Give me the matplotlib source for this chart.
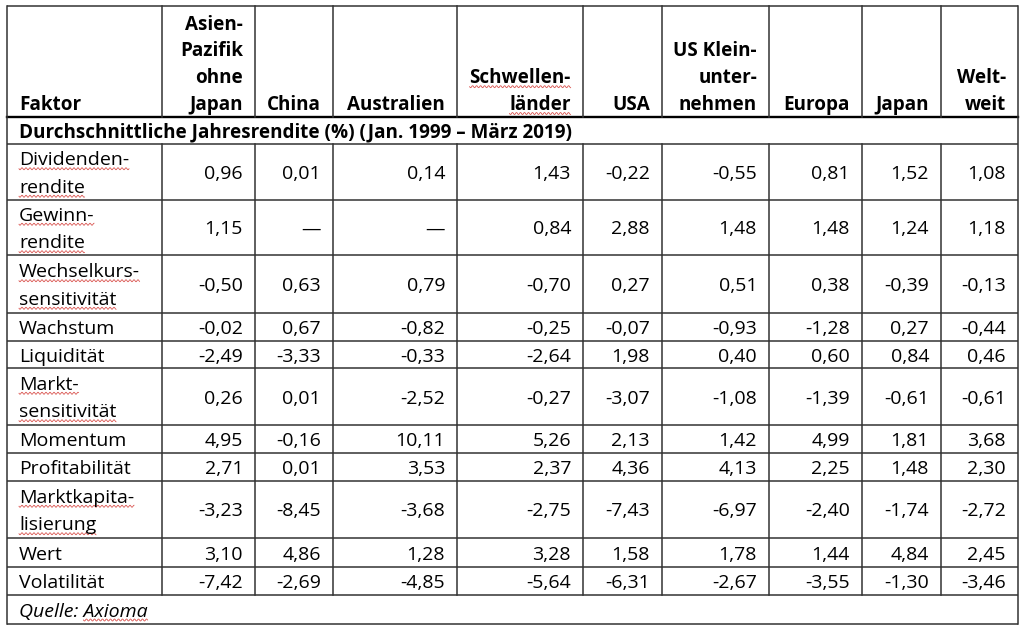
import numpy as np
import matplotlib.pyplot as plt

plt.rcParams['font.family'] = ['Open Sans', 'DejaVu Sans']

# Daten
regionen = ['Asien-\nPazifik\nohne\nJapan', 'China', 'Australien', 'Schwellen-\nländer', 'USA',
            'US Klein-\nunter-\nnehmen', 'Europa', 'Japan', 'Welt-\nweit']
faktoren = ['Dividenden-\nrendite', 'Gewinn-\nrendite', 'Wechselkurs-\nsensitivität', 'Wachstum',
            'Liquidität', 'Markt-\nsensitivität', 'Momentum', 'Profitabilität',
            'Marktkapita-\nlisierung', 'Wert', 'Volatilität']
werte = [
    [0.96, 0.01, 0.14, 1.43, -0.22, -0.55, 0.81, 1.52, 1.08],
    [1.15, None, None, 0.84, 2.88, 1.48, 1.48, 1.24, 1.18],
    [-0.50, 0.63, 0.79, -0.70, 0.27, 0.51, 0.38, -0.39, -0.13],
    [-0.02, 0.67, -0.82, -0.25, -0.07, -0.93, -1.28, 0.27, -0.44],
    [-2.49, -3.33, -0.33, -2.64, 1.98, 0.40, 0.60, 0.84, 0.46],
    [0.26, 0.01, -2.52, -0.27, -3.07, -1.08, -1.39, -0.61, -0.61],
    [4.95, -0.16, 10.11, 5.26, 2.13, 1.42, 4.99, 1.81, 3.68],
    [2.71, 0.01, 3.53, 2.37, 4.36, 4.13, 2.25, 1.48, 2.30],
    [-3.23, -8.45, -3.68, -2.75, -7.43, -6.97, -2.40, -1.74, -2.72],
    [3.10, 4.86, 1.28, 3.28, 1.58, 1.78, 1.44, 4.84, 2.45],
    [-7.42, -2.69, -4.85, -5.64, -6.31, -2.67, -3.55, -1.30, -3.46],
]
untertitel = 'Durchschnittliche Jahresrendite (%) (Jan. 1999 – März 2019)'
quelle = 'Quelle: Axioma'
# Wörter mit roter Rechtschreib-Wellenlinie (wie im Word-Original)
markiert = {'Dividenden-', 'rendite', 'Gewinn-', 'Wechselkurs-', 'sensitivität', 'Markt-',
            'Marktkapita-', 'lisierung', 'Schwellen-', 'länder'}

# Layout in Pixeln
spalten = [7, 162, 255, 333, 457, 583, 662, 769, 862, 941, 1018]
kopf_oben, kopf_unten, titel_unten = 6, 117, 144
zeilen = [144, 200, 255, 313, 341, 368, 425, 453, 481, 538, 567, 595, 624]
fs = 14.0
fs_fett = 13.6
zeilenabstand = 27.5
pad = 12
versatz = 7
linie = '#333333'

fig = plt.figure(figsize=(10.24, 6.30), dpi=100)
ax = fig.add_axes([0, 0, 1, 1])
ax.set_xlim(0, 1024)
ax.set_ylim(630, 0)
ax.axis('off')

wellen = []

# Gitterlinien
links, rechts = spalten[0], spalten[-1]
for y in [kopf_oben] + zeilen:
    ax.plot([links, rechts], [y, y], color=linie, lw=1.1, solid_capstyle='butt')
ax.plot([links, rechts], [kopf_unten, kopf_unten], color='black', lw=1.7)
ax.plot([links, links], [kopf_oben, zeilen[-1]], color=linie, lw=1.1)
ax.plot([rechts, rechts], [kopf_oben, zeilen[-1]], color=linie, lw=1.1)
for x in spalten[1:-1]:
    ax.plot([x, x], [kopf_oben, kopf_unten], color=linie, lw=1.1)
    ax.plot([x, x], [zeilen[0], zeilen[-2]], color=linie, lw=1.1)

# Kopfzeile
basis = kopf_unten - 7
ax.text(spalten[0] + pad, basis, 'Faktor', fontsize=fs_fett, fontweight='bold', va='baseline', ha='left')
for i, name in enumerate(regionen):
    teile = name.split('\n')
    for k, teil in enumerate(teile):
        y = basis - (len(teile) - 1 - k) * 26.8
        t = ax.text(spalten[i + 2] - pad, y, teil, fontsize=fs_fett, fontweight='bold',
                    va='baseline', ha='right')
        if teil in markiert:
            wellen.append((t, y))

# Untertitel
ax.text(spalten[0] + pad, (kopf_unten + titel_unten) / 2 + versatz, untertitel, fontsize=fs_fett,
        fontweight='bold', va='baseline', ha='left')

# Tabellenkörper
for r, faktor in enumerate(faktoren):
    mitte = (zeilen[r] + zeilen[r + 1]) / 2
    teile = faktor.split('\n')
    for k, teil in enumerate(teile):
        y = mitte + versatz + (k - (len(teile) - 1) / 2) * zeilenabstand
        t = ax.text(spalten[0] + pad, y, teil, fontsize=fs, va='baseline', ha='left')
        if teil in markiert:
            wellen.append((t, y))
    for c, v in enumerate(werte[r]):
        s = '—' if v is None else f'{v:.2f}'.replace('.', ',')
        ax.text(spalten[c + 2] - pad, mitte + versatz, s, fontsize=fs, va='baseline', ha='right')

# Quelle
mitte = (zeilen[-2] + zeilen[-1]) / 2
t = ax.text(spalten[0] + pad, mitte + versatz, quelle, fontsize=fs, fontstyle='italic',
            va='baseline', ha='left')

# rote Wellenlinien unter markierten Wörtern
fig.canvas.draw()
renderer = fig.canvas.get_renderer()
inv = ax.transData.inverted()
bb = t.get_window_extent(renderer)
x0 = inv.transform((bb.x1, bb.y0))[0]
wort_axioma = ax.text(0, 0, 'Axioma', fontsize=fs, fontstyle='italic', alpha=0)
bw = wort_axioma.get_window_extent(renderer).width
wort_axioma.remove()
ziele = [(x0 - bw, x0, mitte + versatz)]
for t, y in wellen:
    bb = t.get_window_extent(renderer)
    xa = inv.transform((bb.x0, bb.y0))[0]
    xb = inv.transform((bb.x1, bb.y0))[0]
    ziele.append((xa, xb, y))
for xa, xb, y in ziele:
    xs = np.arange(xa, xb, 0.5)
    ax.plot(xs, y + 3.5 + 1.0 * np.sin((xs - xa) * 2 * np.pi / 4), color='#d9534f', lw=0.6)

plt.savefig('out.png', dpi=100)
